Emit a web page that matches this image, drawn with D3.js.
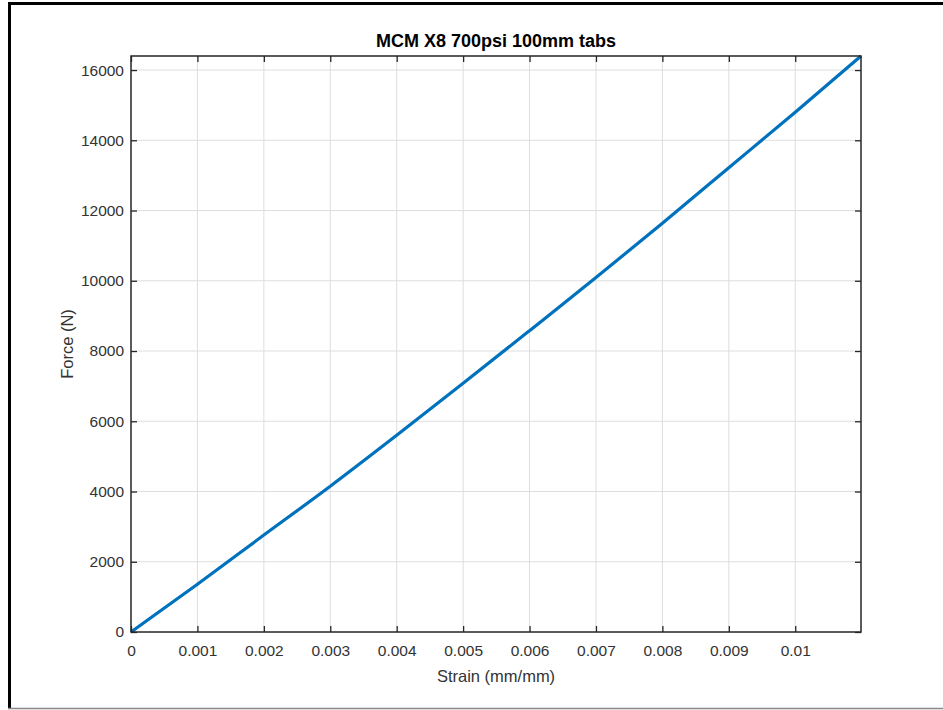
<!DOCTYPE html>
<html>
<head>
<meta charset="utf-8">
<script src="https://cdn.jsdelivr.net/npm/d3@7"></script>
<style>
  body { margin: 0; background: #fff; }
  svg { display: block; font-family: "Liberation Sans", Arial, sans-serif; }
</style>
</head>
<body>
<svg width="943" height="710"></svg>
<script>
// values
const strain = [0, 0.001, 0.002, 0.003, 0.004, 0.005, 0.006, 0.007, 0.008, 0.009, 0.010, 0.01099];
const force = [0, 1360, 2760, 4150, 5600, 7080, 8580, 10090, 11640, 13220, 14800, 16400];
const xTicks = [0, 0.001, 0.002, 0.003, 0.004, 0.005, 0.006, 0.007, 0.008, 0.009, 0.01];
const xTickLabels = ["0", "0.001", "0.002", "0.003", "0.004", "0.005", "0.006", "0.007", "0.008", "0.009", "0.01"];
const yTicks = [0, 2000, 4000, 6000, 8000, 10000, 12000, 14000, 16000];

const titleText = "MCM X8 700psi 100mm tabs";
const xLabel = "Strain (mm/mm)";
const yLabel = "Force (N)";

var svg = d3.select("svg");
var plotL = 131, plotR = 861, plotT = 56, plotB = 632;
var axisColor = "#262626";

var x = d3.scaleLinear().domain([0, 0.01099]).range([plotL, plotR]);
var y = d3.scaleLinear().domain([0, 16400]).range([plotB, plotT]);

// figure frame
svg.append("line").attr("x1", 9.5).attr("x2", 9.5).attr("y1", 2).attr("y2", 708)
    .attr("stroke", "#000").attr("stroke-width", 3);
svg.append("line").attr("x1", 8).attr("x2", 943).attr("y1", 3.5).attr("y2", 3.5)
    .attr("stroke", "#000").attr("stroke-width", 3);
svg.append("line").attr("x1", 8).attr("x2", 943).attr("y1", 708.5).attr("y2", 708.5)
    .attr("stroke", "#888").attr("stroke-width", 1.5);

// grid
var grid = svg.append("g").attr("stroke", "#dedede").attr("stroke-width", 1);
grid.selectAll(".vg").data(xTicks.slice(1)).enter().append("line")
    .attr("x1", d => x(d)).attr("x2", d => x(d))
    .attr("y1", plotT).attr("y2", plotB);
grid.selectAll(".hg").data(yTicks.slice(1)).enter().append("line")
    .attr("x1", plotL).attr("x2", plotR)
    .attr("y1", d => y(d)).attr("y2", d => y(d));

// data line
var line = d3.line().x((d, i) => x(strain[i])).y(d => y(d)).curve(d3.curveMonotoneX);
svg.append("path")
    .datum(force)
    .attr("d", line)
    .attr("fill", "none")
    .attr("stroke", "#0072BD")
    .attr("stroke-width", 3.2)
    .attr("stroke-linejoin", "round");

// axes
function styleAxis(g) {
    g.select(".domain").remove();
    g.selectAll(".tick line").attr("stroke", axisColor).attr("stroke-width", 1.3);
    g.selectAll(".tick text").attr("fill", "#333").attr("font-size", "15.5px")
        .attr("font-family", "'Liberation Sans', Arial, sans-serif");
}

svg.append("g")
    .attr("transform", "translate(0," + plotB + ")")
    .call(d3.axisBottom(x).tickValues(xTicks).tickFormat((d, i) => xTickLabels[i])
        .tickSizeInner(-6).tickSizeOuter(0).tickPadding(13))
    .call(styleAxis);

svg.append("g")
    .attr("transform", "translate(0," + plotT + ")")
    .call(d3.axisTop(x).tickValues(xTicks).tickFormat("")
        .tickSizeInner(-6).tickSizeOuter(0))
    .call(styleAxis);

svg.append("g")
    .attr("transform", "translate(" + plotL + ",0)")
    .call(d3.axisLeft(y).tickValues(yTicks).tickFormat(d3.format("d"))
        .tickSizeInner(-6).tickSizeOuter(0).tickPadding(7))
    .call(styleAxis);

svg.append("g")
    .attr("transform", "translate(" + plotR + ",0)")
    .call(d3.axisRight(y).tickValues(yTicks).tickFormat("")
        .tickSizeInner(-6).tickSizeOuter(0))
    .call(styleAxis);

// box
svg.append("rect")
    .attr("x", plotL).attr("y", plotT)
    .attr("width", plotR - plotL).attr("height", plotB - plotT)
    .attr("fill", "none").attr("stroke", axisColor).attr("stroke-width", 1.5);

// title and labels
svg.append("text")
    .attr("x", (plotL + plotR) / 2).attr("y", 47)
    .attr("text-anchor", "middle")
    .attr("font-size", "18px").attr("font-weight", "bold")
    .attr("fill", "#000")
    .text(titleText);

svg.append("text")
    .attr("x", (plotL + plotR) / 2).attr("y", 682)
    .attr("text-anchor", "middle")
    .attr("font-size", "16.5px").attr("fill", "#333")
    .text(xLabel);

svg.append("text")
    .attr("transform", "translate(73," + ((plotT + plotB) / 2) + ") rotate(-90)")
    .attr("text-anchor", "middle")
    .attr("font-size", "16.5px").attr("fill", "#333")
    .text(yLabel);
</script>
</body>
</html>
